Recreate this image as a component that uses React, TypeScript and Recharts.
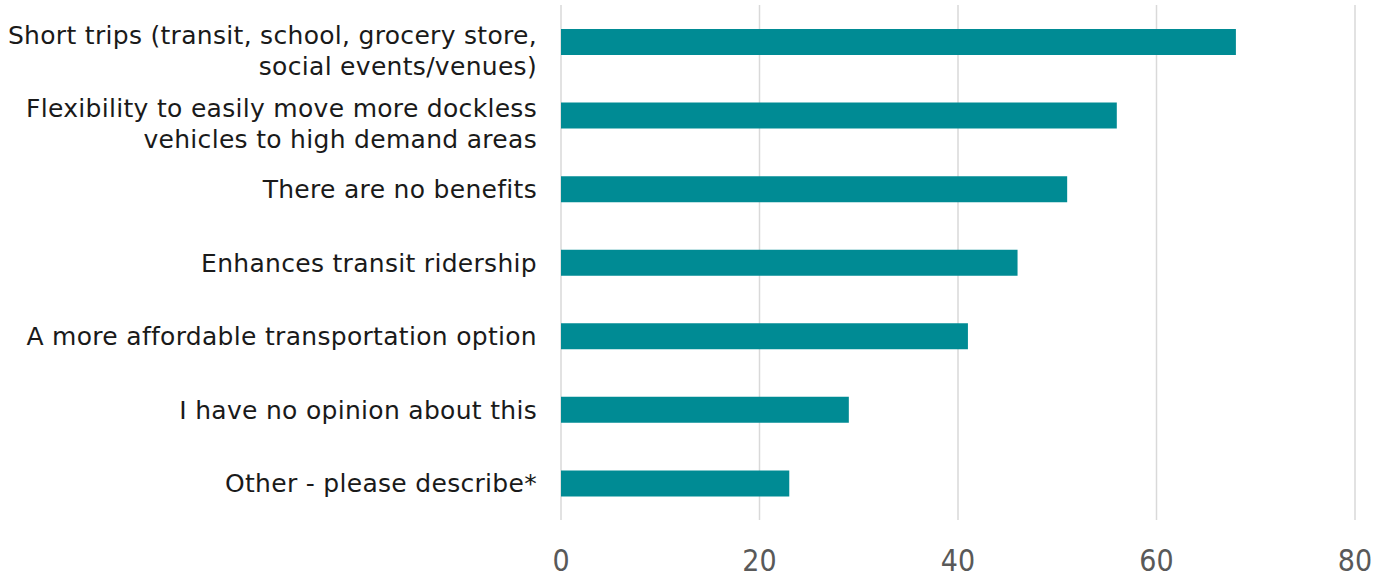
import { BarChart, Bar, XAxis, YAxis, CartesianGrid } from 'recharts'

const categories = [
  'Short trips (transit, school, grocery store,\nsocial events/venues)',
  'Flexibility to easily move more dockless\nvehicles to high demand areas',
  'There are no benefits',
  'Enhances transit ridership',
  'A more affordable transportation option',
  'I have no opinion about this',
  'Other - please describe*',
]
const counts = [68, 56, 51, 46, 41, 29, 23]
const xTicks = [0, 20, 40, 60, 80]

const data = categories.map((name, i) => ({ name, count: counts[i] }))

function CategoryTick({ x, y, payload }: any) {
  const lines = String(payload.value).split('\n')
  const lineH = 31
  // two-line labels sit a little low in the original
  const start = lines.length > 1 ? y - 7 : y
  return (
    <text
      x={x}
      y={start}
      textAnchor="end"
      fill="#1a1a1a"
      fontSize={25}
      letterSpacing={0.3}
      fontFamily="'DejaVu Sans', sans-serif"
    >
      {lines.map((l, i) => (
        <tspan key={i} x={x} y={start + i * lineH + 9}>
          {l}
        </tspan>
      ))}
    </text>
  )
}

export default function App() {
  return (
    <div style={{ position: 'absolute', left: 0, top: 0, background: '#fff' }}>
      <BarChart
        width={1375}
        height={577}
        data={data}
        layout="vertical"
        margin={{ top: 5, right: 20, bottom: 0, left: 0 }}
      >
        <CartesianGrid horizontal={false} stroke="#d9d9d9" strokeWidth={1.5} />
        <XAxis
          type="number"
          domain={[0, 80]}
          ticks={xTicks}
          axisLine={false}
          tickLine={false}
          height={57}
          tickMargin={24}
          tick={{ fill: '#595959', fontSize: 30, fontFamily: "'Liberation Sans Narrow', 'DejaVu Sans Condensed', sans-serif" }}
        />
        <YAxis
          type="category"
          dataKey="name"
          width={561}
          axisLine={false}
          tickLine={false}
          tickMargin={18}
          tick={<CategoryTick />}
        />
        <Bar dataKey="count" fill="#008b94" barSize={26} isAnimationActive={false} />
      </BarChart>
    </div>
  )
}
